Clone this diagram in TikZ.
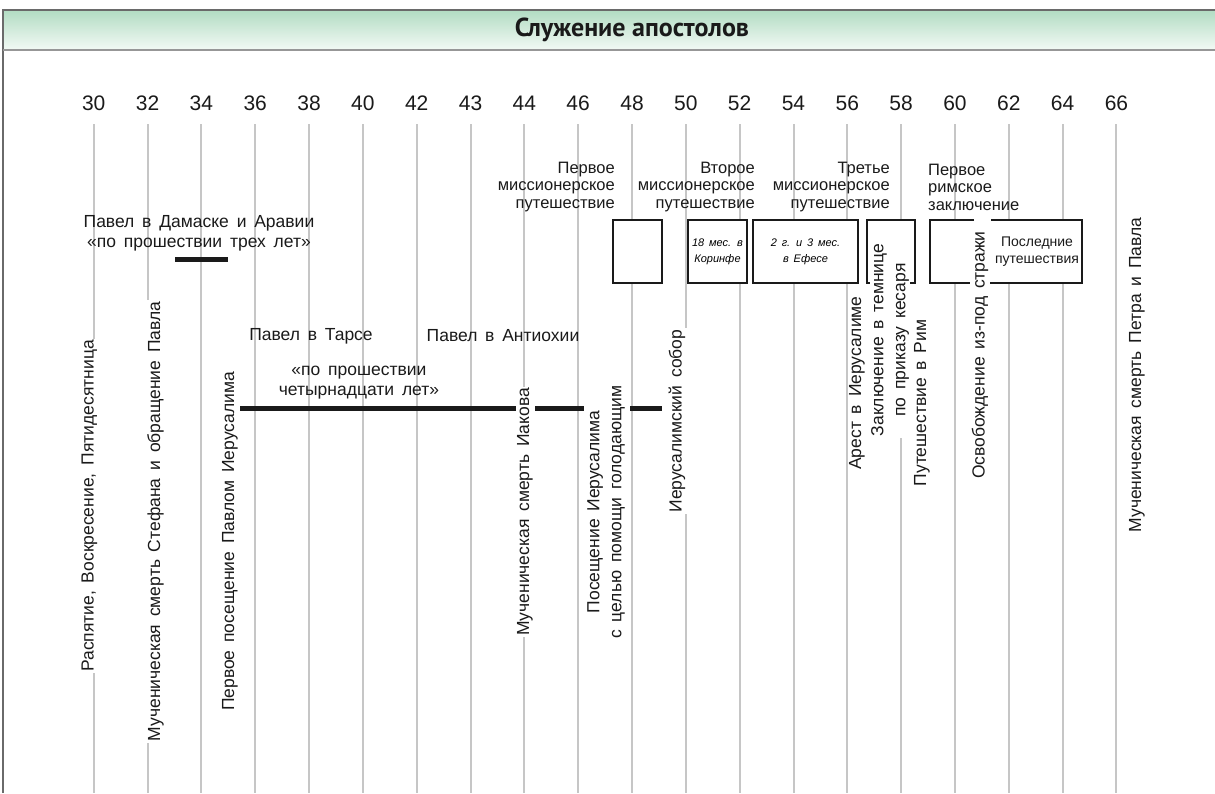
\documentclass[tikz,border=0pt]{standalone}
\usepackage{fontspec}
\setmainfont{Liberation Sans}[WordSpace=1.6]
\newfontfamily\titlefont{PT Sans}
\definecolor{gridgray}{HTML}{C6C6C6}
\definecolor{hdrtop}{HTML}{B2DCC3}
\definecolor{hdrbot}{HTML}{F3FAF5}
\definecolor{ink}{HTML}{1A1A1A}
\definecolor{frame}{HTML}{6A6A6A}
\begin{document}
\begin{tikzpicture}[x=1pt,y=-1pt,
  gridline/.style={draw=gridgray,line width=2pt},
  yearlbl/.style={font=\fontsize{21}{24}\selectfont,text=ink,inner sep=0pt},
  lbl/.style={font=\fontsize{17.5}{20}\selectfont,text=ink,inner sep=1pt},
  vlbl/.style={font=\fontsize{17.5}{22}\selectfont,text=ink,rotate=90,fill=white,inner sep=1.5pt,align=center},
  heading/.style={font=\fontsize{16.5}{17.5}\selectfont,text=ink,inner sep=0pt},
  period/.style={draw=ink,line width=2pt,fill=white,inner sep=0pt},
  boxline/.style={draw=ink,line width=2pt},
  smallit/.style={font=\fontsize{11}{16}\selectfont\itshape,align=center},
  bar/.style={draw=ink,line width=5pt}]
\useasboundingbox (0,0) rectangle (1215,793);
% header
\shade[top color=hdrtop,bottom color=hdrbot] (3,10) rectangle (1215,50);
\draw[draw=frame,line width=1.5pt] (3,793) -- (3,10) -- (1215,10);
\draw[draw=frame!70,line width=2.5pt] (3,50) -- (1215,50);
\node[font=\titlefont\bfseries\fontsize{26}{28}\selectfont,text=ink] (title) at (632,30) {Служение апостолов};
% grid
\foreach \yr [count=\i from 0] in {30,32,34,36,38,40,42,43,44,46,48,50,52,54,56,58,60,62,64,66} {
  \pgfmathsetmacro\xx{93.7+53.83*\i}
  \node[yearlbl] (y\yr) at (\xx,103) {\yr};
  \coordinate (t\yr) at (\xx,124);
  \coordinate (b\yr) at (\xx,793);
  \draw[gridline] (t\yr) -- (b\yr);
}
% boxes
\node[period,minimum width=49,minimum height=63] (trip1) at (637.5,251.5) {};
\node[period,minimum width=59,minimum height=63,smallit] (trip2) at (717.5,251.5) {18 мес. в\\Коринфе};
\node[period,minimum width=105,minimum height=63,smallit] (trip3) at (805.5,251.5) {2 г. и 3 мес.\\в Ефесе};
\node[period,minimum width=48,minimum height=63] (prisonbox) at (891,251.5) {};
\coordinate (rA) at (974,220);
\coordinate (rB) at (930,220);
\coordinate (rC) at (930,283);
\coordinate (rD) at (1082,283);
\coordinate (rE) at (1082,220);
\coordinate (rF) at (991,220);
\fill[white] (rB) rectangle (rD);
\draw[boxline] (rA) -- (rB) -- (rC) -- (rD) -- (rE) -- (rF);
\node[font=\fontsize{14}{17}\selectfont,text=ink,align=center,inner sep=0pt] (last) at (1037,252) {Последние\\путешествия};
% headings
\node[heading,align=right,anchor=east] (h1) at (615,187) {Первое\\миссионерское\\путешествие};
\node[heading,align=right,anchor=east] (h2) at (755,187) {Второе\\миссионерское\\путешествие};
\node[heading,align=right,anchor=east] (h3) at (890,187) {Третье\\миссионерское\\путешествие};
\node[heading,align=left,anchor=west] (h4) at (928,187) {Первое\\римское\\заключение};
% horizontal labels and bars
\node[lbl,align=center] (damascus) at (199,233) {Павел в Дамаске и Аравии\\«по прошествии трех лет»};
\coordinate (dA) at (175,259);
\coordinate (dB) at (228,259);
\draw[bar] (dA) -- (dB);
\node[lbl] (tarsus) at (311,336) {Павел в Тарсе};
\node[lbl] (antioch) at (503,336) {Павел в Антиохии};
\node[lbl,align=center] (fourteen) at (359,382.5) {«по прошествии\\четырнадцати лет»};
\coordinate (bA) at (240,408);
\coordinate (bB) at (516,408);
\coordinate (bC) at (535,408);
\coordinate (bD) at (584,408);
\coordinate (bE) at (630,408);
\coordinate (bF) at (662,408);
\draw[bar] (bA) -- (bB);
\draw[bar] (bC) -- (bD);
\draw[bar] (bE) -- (bF);
% vertical labels
\node[vlbl] (raspyatie) at (89.5,506) {Распятие, Воскресение, Пятидесятница};
\node[vlbl] (stefan) at (155.5,521.5) {Мученическая смерть Стефана и обращение Павла};
\node[vlbl] (firstvisit) at (230,541.5) {Первое посещение Павлом Иерусалима};
\node[vlbl] (iakov) at (525,512) {Мученическая смерть Иакова};
\node[vlbl] (famine) at (606,512) {Посещение Иерусалима\\с целью помощи голодающим};
\node[vlbl] (council) at (677,421) {Иерусалимский собор};
\node[vlbl] (arrest) at (857,383) {Арест в Иерусалиме};
\node[vlbl] (prison) at (890,340) {Заключение в темнице\\по приказу кесаря};
\node[vlbl] (rome) at (922,403) {Путешествие в Рим};
\node[vlbl] (release) at (980,355) {Освобождение из-под стражи};
\node[vlbl] (petrpavel) at (1137,375) {Мученическая смерть Петра и Павла};
\end{tikzpicture}
\end{document}
